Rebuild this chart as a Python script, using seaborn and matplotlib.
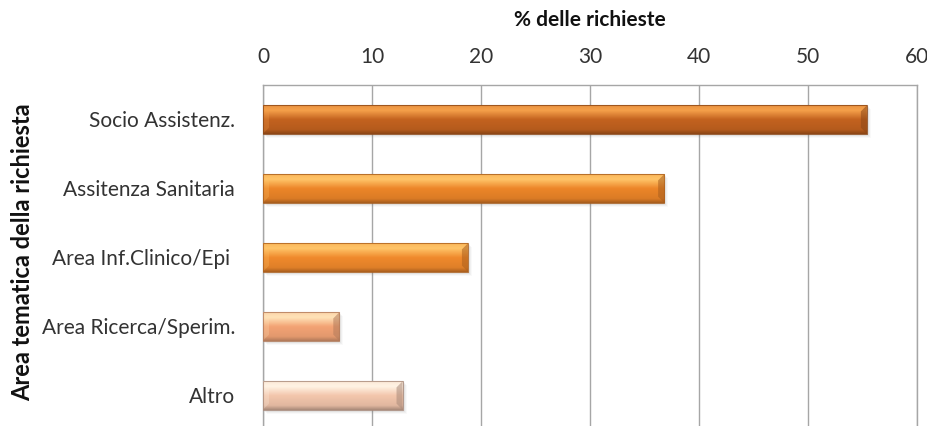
import numpy as np
import pandas as pd
import matplotlib
matplotlib.use("Agg")
import matplotlib.pyplot as plt
from matplotlib.colors import to_rgb
from matplotlib.patches import Polygon, Rectangle
import seaborn as sns

# Data
categories = ["Socio Assistenz.", "Assitenza Sanitaria", "Area Inf.Clinico/Epi ",
              "Area Ricerca/Sperim.", "Altro"]
percent = [55.4, 36.8, 18.8, 7.0, 12.8]
x_ticks = [0, 10, 20, 30, 40, 50, 60]

# Gradient stops per bar: (top highlight, middle, bottom shade)
bar_shades = [
    ("#F5A04A", "#C3621F", "#8C4716"),
    ("#FFC468", "#EC8528", "#A85E1E"),
    ("#FFC468", "#F08A2C", "#AC601E"),
    ("#FFE3B8", "#F3A374", "#B27A5A"),
    ("#FFF3E4", "#F3C6AC", "#A98A7A"),
]

sns.set_theme(style="white")
plt.rcParams["font.family"] = ["Lato", "DejaVu Sans"]

df = pd.DataFrame({"area": categories, "pct": percent})

fig = plt.figure(figsize=(9.28, 4.26), dpi=100)
ax = fig.add_axes([263 / 928, 1 - 430 / 426, (917 - 263) / 928, (430 - 85) / 426])

sns.barplot(data=df, y="area", x="pct", orient="h", ax=ax, width=0.41,
            color="#E88328", saturation=1, linewidth=0, zorder=3)


def gradient_column(stops, n=64):
    top, mid, bot = (np.array(to_rgb(c)) for c in stops)
    pos = np.linspace(0, 1, n)
    keys = [0.0, 0.18, 0.5, 0.85, 1.0]
    cols = [top * 0.8 + mid * 0.2, top, mid, mid * 0.75 + bot * 0.25, bot]
    out = np.zeros((n, 1, 3))
    for ch in range(3):
        out[:, 0, ch] = np.interp(pos, keys, [c[ch] for c in cols])
    return out


px_x = 60 / 654.0
px_y = 1.0 / 69.0
for patch, stops in zip(ax.patches, bar_shades):
    x0, y0 = patch.get_x(), patch.get_y()
    w, h = patch.get_width(), patch.get_height()
    # soft drop shadow
    for k, a in zip(range(1, 5), [0.10, 0.08, 0.06, 0.04]):
        ax.add_patch(Rectangle((x0 + k * px_x, y0 + k * px_y), w, h,
                               facecolor="#707070", alpha=a, linewidth=0, zorder=2))
    ax.imshow(gradient_column(stops), extent=(x0, x0 + w, y0 + h, y0),
              aspect="auto", zorder=4, interpolation="bilinear")
    # bevelled right end
    bx, by = 6 * px_x, 6 * px_y
    ax.add_patch(Polygon([(x0 + w - bx, y0 + by), (x0 + w, y0), (x0 + w, y0 + h),
                          (x0 + w - bx, y0 + h - by)], closed=True,
                         facecolor=stops[2], alpha=0.55, linewidth=0, zorder=5))
    # bevelled left corner highlight
    ax.add_patch(Polygon([(x0, y0), (x0 + bx, y0 + by), (x0 + bx, y0 + h - by), (x0, y0 + h)],
                         closed=True, facecolor=stops[0], alpha=0.25, linewidth=0, zorder=5))
    ax.add_patch(Rectangle((x0, y0), w, h, fill=False, edgecolor=stops[2],
                           linewidth=0.8, alpha=0.8, zorder=6))
    patch.set_visible(False)

ax.set_xlim(0, 60)
ax.set_ylim(len(categories) - 0.5, -0.5)
ax.set_xticks(x_ticks)
ax.xaxis.tick_top()
ax.xaxis.set_label_position("top")
ax.grid(axis="x", color="#A6A6A6", linewidth=1.0, zorder=0)
ax.set_axisbelow(True)
for side in ["top", "left", "right", "bottom"]:
    ax.spines[side].set_color("#A6A6A6")
    ax.spines[side].set_linewidth(1.0)

ax.tick_params(axis="x", length=0, pad=13, labelsize=15, labelcolor="#333333")
ax.tick_params(axis="y", length=0, pad=20, labelsize=15, labelcolor="#333333")
ax.set_xlabel("% delle richieste", fontsize=15, fontweight="bold", labelpad=15,
              color="#111111")
ax.set_ylabel("")
fig.text(23 / 928, 1 - 252 / 426, "Area tematica della richiesta", rotation=90,
         fontsize=17, fontweight="bold", color="#111111", ha="center", va="center")

fig.savefig("out.png", dpi=100)
